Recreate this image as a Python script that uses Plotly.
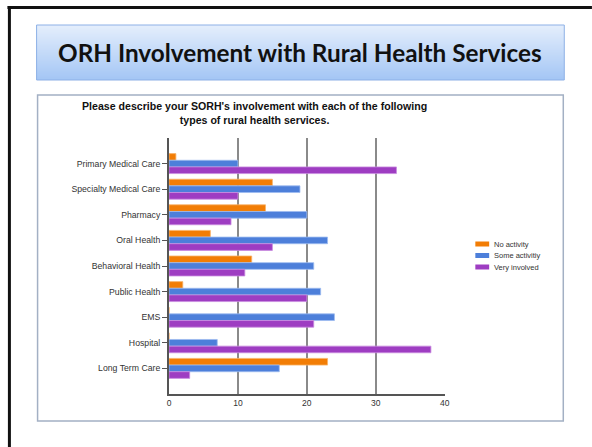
import plotly.graph_objects as go

W, H = 592, 447

categories = ["Primary Medical Care", "Specialty Medical Care", "Pharmacy", "Oral Health",
              "Behavioral Health", "Public Health", "EMS", "Hospital", "Long Term Care"]
no_activity = [1, 15, 14, 6, 12, 2, 0, 0, 23]
some_activity = [10, 19, 20, 23, 21, 22, 24, 7, 16]
very_involved = [33, 10, 9, 15, 11, 20, 21, 38, 3]
series_names = ["No activity", "Some activitiy", "Very involved"]
series_colors = ["#F27D05", "#4D7FDA", "#9E3DC2"]
series_lines = ["#F8B36A", "#9DBBF0", "#C98BE0"]
x_ticks = [0, 10, 20, 30, 40]

slide_title = "ORH Involvement with Rural Health Services"
chart_title = ("Please describe your SORH's involvement with each of the following"
               "<br>types of rural health services.")


def px(x):
    return x / W


def py(y):
    return 1 - y / H


fig = go.Figure()
for name, vals, col, lc in zip(series_names, [no_activity, some_activity, very_involved],
                               series_colors, series_lines):
    fig.add_trace(go.Bar(y=categories, x=vals, name=name, orientation="h",
                         marker=dict(color=col, line=dict(color=lc, width=0.8)),
                         showlegend=False))

shapes = []
# slide black border (top & left)
shapes.append(dict(type="line", xref="paper", yref="paper", x0=px(5.5), x1=px(W + 5),
                   y0=py(7.5), y1=py(7.5), line=dict(color="#111111", width=3)))
shapes.append(dict(type="line", xref="paper", yref="paper", x0=px(7.5), x1=px(7.5),
                   y0=py(6), y1=py(H + 5), line=dict(color="#111111", width=3)))

# title box gradient
top_c = (0xE4, 0xEE, 0xFC)
bot_c = (0xA4, 0xC6, 0xF5)
y_top, y_bot = 25, 80
n = y_bot - y_top
for i in range(n):
    t = i / (n - 1)
    c = tuple(int(round(a + (b - a) * t)) for a, b in zip(top_c, bot_c))
    shapes.append(dict(type="rect", xref="paper", yref="paper", x0=px(35), x1=px(569),
                       y0=py(y_top + i), y1=py(y_top + i + 1.05),
                       fillcolor="rgb(%d,%d,%d)" % c, line=dict(width=0), layer="below"))
shapes.append(dict(type="rect", xref="paper", yref="paper", x0=px(35), x1=px(569),
                   y0=py(y_top), y1=py(y_bot), line=dict(color="#8DB0E6", width=1)))

# inner chart frame
shapes.append(dict(type="rect", xref="paper", yref="paper", x0=px(36), x1=px(568),
                   y0=py(95), y1=py(421), line=dict(color="#A3B0C4", width=1.5)))

# custom legend
leg_y = [244, 255.5, 267]
annotations = []
for name, col, ly in zip(series_names, series_colors, leg_y):
    shapes.append(dict(type="rect", xref="paper", yref="paper", x0=px(479), x1=px(493),
                       y0=py(ly - 2.5), y1=py(ly + 2.5), fillcolor=col,
                       line=dict(width=0)))
    annotations.append(dict(text=name, xref="paper", yref="paper", x=px(496), y=py(ly),
                            xanchor="left", yanchor="middle", showarrow=False,
                            font=dict(family="Liberation Sans, Arial", size=7.5, color="#333333")))

annotations.append(dict(text="<b>%s</b>" % slide_title, xref="paper", yref="paper",
                        x=px(302), y=py(52.5), xanchor="center", yanchor="middle",
                        showarrow=False,
                        font=dict(family="Lato, Open Sans", size=24.3, color="#111111")))
annotations.append(dict(text="<b>%s</b>" % chart_title, xref="paper", yref="paper",
                        x=px(256), y=py(113), xanchor="center", yanchor="middle",
                        showarrow=False,
                        font=dict(family="Liberation Sans, Arial", size=10.6, color="#111111")))

fig.update_layout(
    width=W, height=H,
    margin=dict(l=0, r=0, t=0, b=0),
    paper_bgcolor="white", plot_bgcolor="white",
    barmode="group", bargap=0.22, bargroupgap=0,
    shapes=shapes, annotations=annotations,
    xaxis=dict(domain=[px(169), px(448)], range=[0, 40], tickvals=x_ticks,
               showgrid=True, gridcolor="#8A8A8A", gridwidth=2, zeroline=False,
               showline=True, linecolor="#555555", linewidth=2,
               ticks="", tickfont=dict(family="Liberation Sans, Arial", size=8.5, color="#333333"),
               fixedrange=True),
    yaxis=dict(domain=[py(394), py(138)], range=[len(categories), -1],
               type="category", showgrid=False, zeroline=False,
               showline=True, linecolor="#555555", linewidth=2,
               ticks="outside", ticklen=5, tickcolor="#555555", tickwidth=1,
               tickfont=dict(family="Liberation Sans, Arial", size=8.7, color="#333333"),
               fixedrange=True),
)

fig.write_html("out.html", config={"displayModeBar": False},
               post_script="document.body.style.margin='0';document.body.style.overflow='hidden';")
